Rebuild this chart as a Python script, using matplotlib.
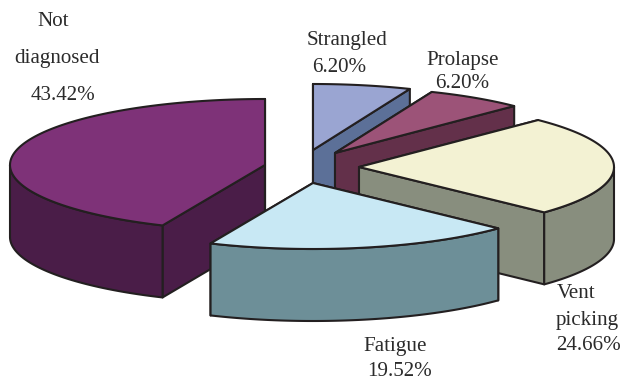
import numpy as np
import matplotlib
matplotlib.use("Agg")
import matplotlib.pyplot as plt
from matplotlib.patches import Polygon

causes = ["Strangled", "Prolapse", "Vent picking", "Fatigue", "Not diagnosed"]
shares = [6.20, 6.20, 24.66, 19.52, 43.42]

top_colors = ["#9aa5d2", "#9c5378", "#f3f2d3", "#c8e8f4", "#7e3278"]
side_colors = ["#5c7098", "#63304a", "#888e7e", "#6d8f98", "#4a1d48"]

# pie layout, in pixels
center = (313, 165)
rx, ry = 255, 66
depth = 72
explode = [(0, -15), (22, -12), (46, 2), (0, 18), (-48, 0)]

# one line per entry: text, left edge, vertical centre
label_lines = [
    ("Not", 37, 22), ("diagnosed", 14, 59), ("43.42%", 31, 95),
    ("Strangled", 307, 40), ("6.20%", 312, 68),
    ("Prolapse", 426, 61), ("6.20%", 435, 83),
    ("Vent", 557, 293), ("picking", 556, 320), ("24.66%", 556, 346),
    ("Fatigue", 363, 347), ("19.52%", 367, 372),
]

edge = "#231f20"

def rim(cx, cy, a0, a1):
    # angles run clockwise from twelve o'clock
    t = np.radians(np.linspace(a0, a1, 120))
    return np.column_stack([cx + rx * np.sin(t), cy - ry * np.cos(t)])

def face(points, color, z):
    return Polygon(points, closed=True, facecolor=color, edgecolor=edge,
                   linewidth=1.5, joinstyle="round", zorder=z)

fig = plt.figure(figsize=(6.21, 3.81), dpi=100)
ax = fig.add_axes([0, 0, 1, 1])
ax.set_xlim(0, 621)
ax.set_ylim(381, 0)
ax.axis("off")

edges = np.concatenate([[0], np.cumsum(shares)]) / np.sum(shares) * 360

# the big slice goes first, the rest follow clockwise so nearer ones overlap
order = [4, 0, 1, 2, 3]
for z, i in enumerate(order):
    cx, cy = center[0] + explode[i][0], center[1] + explode[i][1]
    a0, a1 = edges[i], edges[i + 1]
    outline = rim(cx, cy, a0, a1)
    base = z * 10

    # cut faces
    for p in (outline[0], outline[-1]):
        ax.add_patch(face([(cx, cy), p, (p[0], p[1] + depth), (cx, cy + depth)],
                          side_colors[i], base))

    # outer wall, only where it faces the viewer
    w0, w1 = max(a0, 90), min(a1, 270)
    if w1 > w0:
        wall = rim(cx, cy, w0, w1)
        lower = wall[::-1] + [0, depth]
        ax.add_patch(face(np.vstack([wall, lower]), side_colors[i], base + 1))

    ax.add_patch(face(np.vstack([[(cx, cy)], outline]), top_colors[i], base + 2))

for text, x, y in label_lines:
    ax.text(x, y, text, family="Liberation Serif", fontsize=15.1, color="#2b2b2b",
            ha="left", va="center", zorder=100)

fig.savefig("out.png", dpi=100)
